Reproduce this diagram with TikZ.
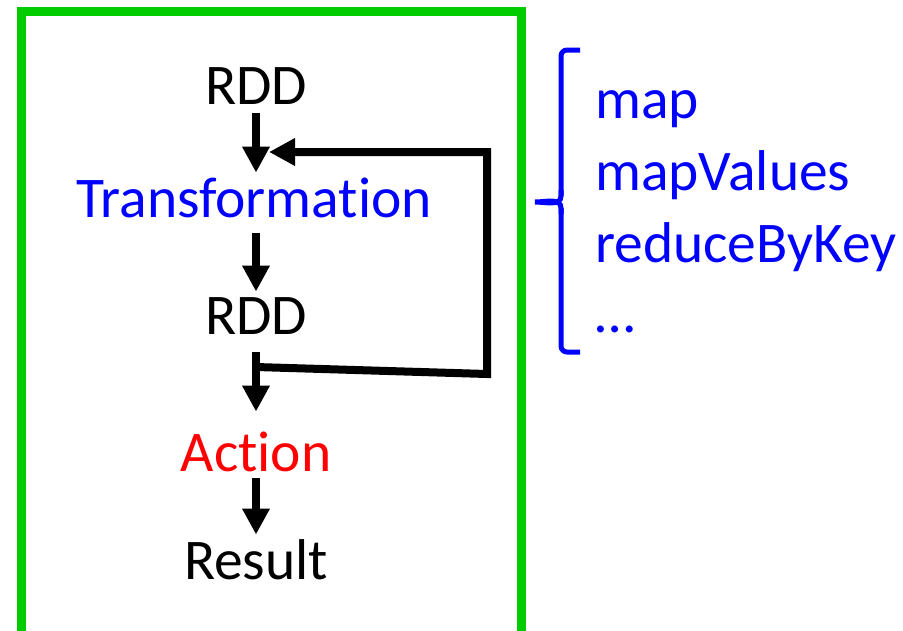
\documentclass[tikz,border=0pt]{standalone}
\usepackage{fontspec}
\setmainfont{Carlito}[Ligatures=NoCommon]
\usetikzlibrary{arrows.meta}
\definecolor{boxgreen}{RGB}{0,204,0}
\definecolor{pblue}{RGB}{0,0,255}
\definecolor{pred}{RGB}{255,0,0}
\tikzset{
  lbl/.style={inner sep=0pt, text height=36pt, text depth=0pt, font=\fontsize{57.5}{68}\selectfont},
  side/.style={inner sep=0pt, anchor=base west, text=pblue, font=\fontsize{57.5}{68}\selectfont},
  arr/.style={line width=8pt, -{Triangle[length=26pt,width=26pt]}},
  fbline/.style={line width=8pt, line join=miter},
}
\begin{document}
\begin{tikzpicture}[x=1pt,y=-1pt]
\useasboundingbox (0,0) rectangle (903,630);
\draw[boxgreen, line width=9pt] (21,11) rectangle (521,640);
% flow nodes (anchored at baseline via text height 36pt)
\node[lbl, anchor=south] (rdd1) at (256,105) {RDD};
\node[lbl, anchor=south, text=pblue] (trans) at (254,218) {Transformation};
\node[lbl, anchor=south] (rdd2) at (256,335) {RDD};
\node[lbl, anchor=south, text=pred] (act) at (256,472) {Action};
\node[lbl, anchor=south] (res) at (256,580) {Result};
% arrows
\draw[arr, shorten <=8pt, shorten >=9pt] (rdd1.south) -- (rdd1.south |- trans.north);
\draw[arr, shorten <=15pt, shorten >=7pt] (rdd1.south |- trans.south) -- (rdd2.north);
\draw[arr, shorten <=17pt, shorten >=24pt] (rdd2.south) -- (act.north);
\draw[arr, shorten <=6pt, shorten >=9pt] (act.south) -- (res.north);
% feedback loop
\coordinate (j) at (256,367);
\coordinate (c1) at (487,374);
\coordinate (c2) at (487,152);
\coordinate (fb) at (269,152);
\draw[fbline] (j) -- (c1) -- (c2) -- ([xshift=20pt]fb);
\draw[arr] (c2) -- (fb);
% brace
\draw[pblue, line width=5pt, rounded corners=6pt] (580,50) -- (561,50) -- (561,196);
\draw[pblue, line width=5pt] (561,190) -- (561,196) to[out=-90,in=0] (535,202) to[out=0,in=90] (561,208) -- (561,214);
\draw[pblue, line width=5pt, rounded corners=6pt] (561,208) -- (561,352) -- (580,352);
% list
\node[side] (m1) at (595,118) {map};
\node[side] (m2) at (595,190) {mapValues};
\node[side] (m3) at (595,262) {reduceByKey};
\node[side] (m4) at (595,332) {…};
\end{tikzpicture}
\end{document}
